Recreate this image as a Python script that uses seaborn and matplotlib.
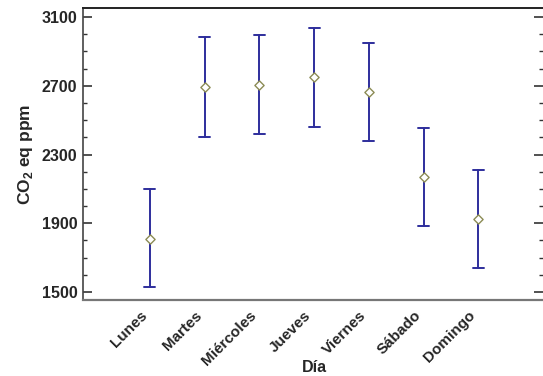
import matplotlib
matplotlib.use("Agg")
import matplotlib.pyplot as plt
from matplotlib.ticker import MultipleLocator
import seaborn as sns
import pandas as pd

dias = ["Lunes", "Martes", "Miércoles", "Jueves", "Viernes", "Sábado", "Domingo"]
media = [1811, 2695, 2706, 2748, 2663, 2168, 1925]
inferior = [1527, 2404, 2420, 2462, 2377, 1883, 1641]
superior = [2097, 2986, 2997, 3036, 2948, 2457, 2211]
yticks = [1500, 1900, 2300, 2700, 3100]

sns.set_theme(style="white")
plt.rcParams["font.family"] = ["Liberation Sans", "DejaVu Sans"]
plt.rcParams["mathtext.fontset"] = "custom"
plt.rcParams["mathtext.rm"] = "Liberation Sans:bold"
plt.rcParams["mathtext.bf"] = "Liberation Sans:bold"

rows = []
for d, lo, m, hi in zip(dias, inferior, media, superior):
    for v in (lo, m, hi):
        rows.append({"Día": d, "ppm": v})
df = pd.DataFrame(rows)
dfm = pd.DataFrame({"Día": dias, "ppm": media})

fig = plt.figure(figsize=(5.43, 3.76), dpi=100)
ax = fig.add_axes([83 / 543, 1 - 300 / 376, (543 - 83) / 543, (300 - 8) / 376])

sns.pointplot(data=df, x="Día", y="ppm", order=dias, estimator="median",
              errorbar=("pi", 100), linestyle="none", marker="", capsize=0.2,
              color="#2e2e9c", err_kws={"linewidth": 1.4}, ax=ax)
sns.scatterplot(data=dfm, x="Día", y="ppm", marker="D", s=22, facecolor="white",
                edgecolor="#8c8c55", linewidth=1.0, zorder=5, ax=ax)

ax.set_xlim(-1.22, 7.18)
ax.set_ylim(1454, 3152)
ax.set_yticks(yticks)
ax.yaxis.set_minor_locator(MultipleLocator(100))
ax.tick_params(axis="y", which="major", direction="in", length=6.5, width=1.2,
               color="#333333", left=True, right=True, labelsize=11.5, pad=4)
ax.tick_params(axis="y", which="minor", direction="in", length=3, width=1.0,
               color="#333333", left=True, right=True)
ax.tick_params(axis="x", bottom=False, labelsize=11, pad=0)
for lab in ax.get_yticklabels():
    lab.set_fontweight("bold")
for lab in ax.get_xticklabels():
    lab.set_fontweight("bold")
    lab.set_rotation(45)
    lab.set_ha("right")
    lab.set_va("top")
    lab.set_rotation_mode("default")

ax.set_xlabel("Día", fontsize=11.5, fontweight="bold")
ax.xaxis.set_label_coords(0.504, -0.207)
ax.set_ylabel(r"CO$_{\mathbf{2}}$ eq ppm", fontsize=12.5, fontweight="bold", labelpad=5)

ax.spines["right"].set_visible(False)
ax.spines["left"].set_color("#444444")
ax.spines["left"].set_linewidth(1.2)
ax.spines["top"].set_color("#222222")
ax.spines["top"].set_linewidth(1.4)
ax.spines["bottom"].set_color("#777777")
ax.spines["bottom"].set_linewidth(1.6)

fig.savefig("out.png", dpi=100)
